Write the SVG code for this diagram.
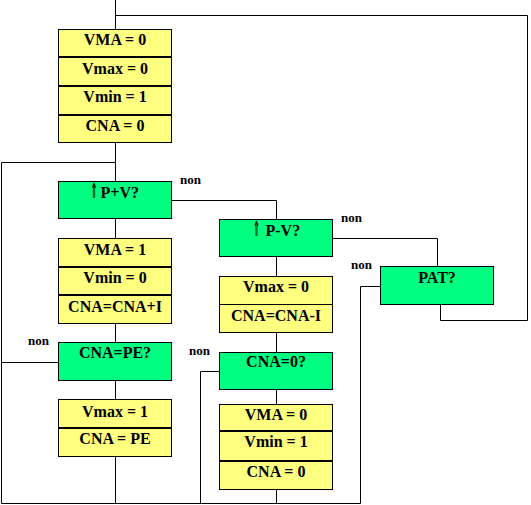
<svg xmlns="http://www.w3.org/2000/svg" width="531" height="505" viewBox="0 0 531 505">
<style>
.y{fill:#FFFF80;stroke:#000;stroke-width:1}
.g{fill:#00FF80;stroke:#000;stroke-width:1}
.d{stroke:#000;stroke-width:2;fill:none}
.dt{stroke:#000;stroke-width:1;fill:none}
.c{stroke:#000;stroke-width:1;fill:none}
.t{text-anchor:middle}
.ar{font-family:"DejaVu Sans",sans-serif;font-size:21px;font-weight:bold}
</style>
<rect width="531" height="505" fill="#fff"/>
<g id="connectors">
<path class="c" d="M115.5 0V29.5M115.5 142.5V181.5M115.5 218.5V238.5M115.5 323.5V342.5M115.5 380.5V399.5M115.5 456.5V503.5"/>
<path class="c" d="M115.5 15.5H527.5V320.5H440.5V304.5"/>
<path class="c" d="M115.5 162.5H1.5V503.5H360.5"/>
<path class="c" d="M58.5 362.5H1.5"/>
<path class="c" d="M171.5 200.5H276.5V219.5"/>
<path class="c" d="M276.5 256.5V276.5M276.5 332.5V352.5M276.5 389.5V404.5M276.5 489.5V503.5"/>
<path class="c" d="M219.5 371.5H200.5V503.5"/>
<path class="c" d="M332.5 238.5H437.5V266.5"/>
<path class="c" d="M380.5 286.5H360.5V503.5"/>
</g>
<g font-family="Liberation Serif, DejaVu Serif, Times New Roman, serif" font-weight="bold" font-size="16" fill="#000">
<g id="init">
<rect class="y" x="58.5" y="29.5" width="113" height="113"/>
<path class="d" d="M58 57H172M58 86H172M58 115H172"/>
<text class="t" x="115" y="45">VMA = 0</text>
<text class="t" x="115" y="74">Vmax = 0</text>
<text class="t" x="115" y="102">Vmin = 1</text>
<text class="t" x="115" y="131">CNA = 0</text>
</g>
<g id="q-pv">
<rect class="g" x="58.5" y="181.5" width="113" height="37"/>
<text class="ar" transform="translate(90.5 198) scale(0.4 1)">⇑</text>
<text x="100.5" y="198">P+V?</text>
</g>
<g id="set1">
<rect class="y" x="58.5" y="238.5" width="113" height="85"/>
<path class="d" d="M58 267H172M58 295H172"/>
<text class="t" x="115" y="255">VMA = 1</text>
<text class="t" x="115" y="283">Vmin = 0</text>
<text class="t" x="115" y="311.5">CNA=CNA+I</text>
</g>
<g id="q-pe">
<rect class="g" x="58.5" y="342.5" width="113" height="38"/>
<text class="t" x="115" y="358">CNA=PE?</text>
</g>
<g id="set2">
<rect class="y" x="58.5" y="399.5" width="113" height="57"/>
<path class="d" d="M58 428H172"/>
<text class="t" x="115" y="416.5">Vmax = 1</text>
<text class="t" x="115" y="444">CNA = PE</text>
</g>
<g id="q-mv">
<rect class="g" x="219.5" y="219.5" width="113" height="37"/>
<text class="ar" transform="translate(253 236) scale(0.4 1)">⇑</text>
<text x="265.5" y="236">P-V?</text>
</g>
<g id="set3">
<rect class="y" x="219.5" y="276.5" width="113" height="56"/>
<path class="dt" d="M219 304.5H333"/>
<text class="t" x="276" y="292.3">Vmax = 0</text>
<text class="t" x="276" y="320.7">CNA=CNA-I</text>
</g>
<g id="q-zero">
<rect class="g" x="219.5" y="352.5" width="113" height="37"/>
<text class="t" x="276" y="367">CNA=0?</text>
</g>
<g id="set4">
<rect class="y" x="219.5" y="404.5" width="113" height="85"/>
<path class="d" d="M219 431H333M219 461H333"/>
<text class="t" x="276" y="420">VMA = 0</text>
<text class="t" x="276" y="447.3">Vmin = 1</text>
<text class="t" x="276" y="476.7">CNA = 0</text>
</g>
<g id="q-pat">
<rect class="g" x="380.5" y="266.5" width="113" height="38"/>
<text class="t" x="437" y="282.7">PAT?</text>
</g>
<g id="labels" font-size="13">
<text x="180" y="184">non</text>
<text x="341" y="222">non</text>
<text x="351" y="269">non</text>
<text x="28" y="345">non</text>
<text x="189" y="355">non</text>
</g>
</g>
</svg>
